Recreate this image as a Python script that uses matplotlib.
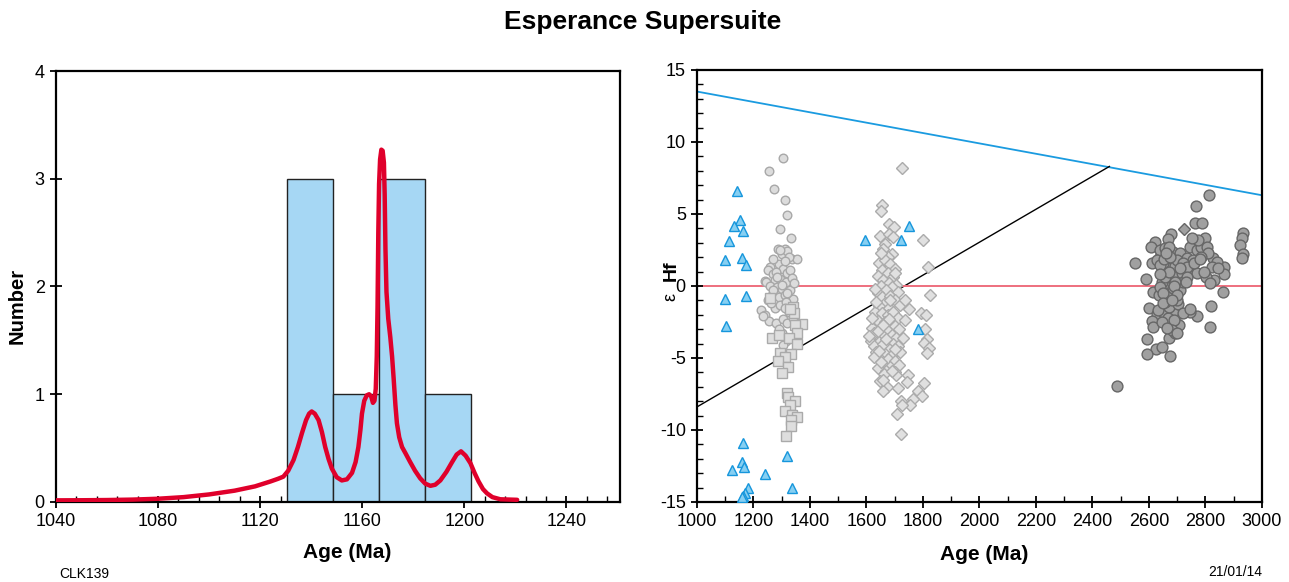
import numpy as np
import matplotlib
matplotlib.use("Agg")
import matplotlib.pyplot as plt
from matplotlib.ticker import MultipleLocator

plt.rcParams['font.family'] = ['Liberation Sans', 'DejaVu Sans']
plt.rcParams['axes.unicode_minus'] = False

# ---------------- Left panel data ----------------
bin_edges = [1130.5, 1148.5, 1166.6, 1184.7, 1202.7]
bin_counts = [3, 1, 3, 1]

pdp_age = [1040, 1050, 1060, 1070, 1080, 1090, 1100, 1110, 1118, 1124, 1127, 1129.1, 1131,
           1133.1, 1134.8, 1136.4, 1138, 1139.2, 1140.2, 1141.4, 1142.9, 1144.2, 1145.5,
           1146.8, 1148.1, 1150, 1152, 1154, 1156, 1157.4, 1158.5, 1159.3, 1159.9, 1160.8,
           1161.8, 1162.7, 1163.5, 1164.2, 1164.8, 1165.3, 1165.7, 1166.0, 1166.3, 1166.6,
           1167.0, 1167.5, 1168.0, 1168.5, 1168.8, 1169.1, 1169.5, 1170.2, 1171.0, 1171.7,
           1172.3, 1173.0, 1173.6, 1174.5, 1175.6, 1177, 1178.8, 1180.7, 1182.7, 1184.7,
           1186.7, 1188.6, 1190.6, 1193, 1195.2, 1197, 1198.7, 1200.5, 1202.4, 1204,
           1205.6, 1207.3, 1208.9, 1211, 1214.1, 1220.7]
pdp_val = [0.015, 0.016, 0.018, 0.022, 0.03, 0.045, 0.07, 0.105, 0.145, 0.19, 0.215, 0.235,
           0.29, 0.39, 0.51, 0.64, 0.76, 0.82, 0.84, 0.82, 0.76, 0.65, 0.51,
           0.40, 0.31, 0.23, 0.20, 0.21, 0.27, 0.37, 0.51, 0.67, 0.82, 0.94,
           0.99, 1.0, 0.98, 0.92, 0.94, 1.05, 1.35, 1.81, 2.5, 2.95,
           3.18, 3.27, 3.26, 3.15, 2.85, 2.35, 1.95, 1.7, 1.53, 1.35,
           1.15, 0.9, 0.73, 0.6, 0.51, 0.45, 0.37, 0.29, 0.22, 0.17,
           0.15, 0.16, 0.2, 0.28, 0.37, 0.44, 0.47, 0.43, 0.36, 0.27,
           0.19, 0.12, 0.08, 0.045, 0.025, 0.02]

# ---------------- Right panel data ----------------
dm_age = [1000, 3000]
dm_ehf = [13.5, 6.3]
crust_age = [1000, 2460]
crust_ehf = [-8.4, 8.3]
chur_age = [1000, 3000]
chur_ehf = [0, 0]

tri_age = [1140, 1152, 1130, 1162, 1113, 1100, 1158, 1172, 1099, 1174, 1103, 1595, 1722,
           1749, 1781, 1164, 1124, 1159, 1168, 1242, 1320, 1181, 1335, 1170, 1162, 1158]
tri_ehf = [6.57, 4.61, 4.17, 3.8, 3.13, 1.79, 1.91, 1.47, -0.91, -0.68, -2.76, 3.18, 3.2,
           4.17, -3.0, -10.9, -12.78, -12.23, -12.57, -13.08, -11.84, -14.0, -14.0, -14.4,
           -14.56, -14.67]

circA_age = [1305, 1256, 1274, 1313, 1318, 1295, 1333, 1288, 1313, 1300, 1335, 1355, 1320,
             1258, 1250, 1270, 1240, 1290, 1305, 1320, 1330, 1245, 1275, 1295, 1315, 1335,
             1260, 1285, 1300, 1330, 1265, 1290, 1310, 1340, 1228, 1240, 1255, 1275, 1295,
             1315, 1325, 1280, 1305, 1320, 1340, 1300, 1315, 1305, 1290, 1270, 1310, 1250,
             1335, 1300, 1280, 1325, 1310, 1295, 1268, 1262, 1285, 1320, 1345, 1235]
circA_ehf = [8.9, 8.0, 6.7, 5.95, 4.95, 3.95, 3.35, 2.6, 2.6, 2.2, 1.9, 1.85, 2.45,
             1.3, 1.1, 0.85, 0.35, 1.5, 1.2, 0.9, 1.1, 0.25, 0.4, 0.5, 0.3, 0.55,
             0.0, -0.1, -0.2, -0.3, -0.6, -0.8, -0.6, -0.9, -1.7, -2.0, -2.4, -1.5, -1.3,
             -1.1, -1.8, -2.6, -2.3, -2.6, -2.2, -3.3, -3.8, -4.1, -3.0, -0.3, -1.5, -1.0,
             -1.5, 0.1, 1.0, 2.0, 1.7, 2.5, 1.9, -1.2, 0.6, -0.5, 0.2, -2.1]

sqA_age = [1258, 1341, 1371, 1347, 1264, 1291, 1353, 1327, 1353, 1294, 1333, 1311, 1288,
           1323, 1302, 1318, 1321, 1347, 1329, 1311, 1335, 1353, 1333, 1332, 1314, 1345,
           1330]
sqA_ehf = [-0.85, -1.44, -2.64, -2.7, -3.59, -3.4, -3.29, -3.63, -4.03, -4.68, -4.75, -4.9,
           -5.2, -5.6, -6.06, -7.45, -7.68, -7.96, -8.26, -8.66, -8.96, -9.07, -9.3, -9.72,
           -10.4, -1.9, -1.6]

diaB_age = [1727, 1656, 1650, 1681, 1697, 1649, 1679, 1695, 1799, 1666, 1660, 1690, 1675,
            1817, 1825,
            1645, 1665, 1685, 1700, 1655, 1675, 1640, 1695, 1660, 1680, 1705, 1650, 1690,
            1670, 1640, 1710, 1655, 1685, 1700, 1665, 1645, 1680, 1720,
            1630, 1655, 1675, 1695, 1710, 1640, 1665, 1685, 1700, 1620, 1650, 1675, 1715,
            1635, 1660, 1690, 1705, 1615, 1645, 1670, 1695, 1625, 1655, 1680, 1710, 1635,
            1665, 1690, 1720, 1645, 1675, 1700, 1655, 1685, 1640, 1715, 1670, 1700,
            1752, 1792, 1811, 1736, 1807, 1730, 1815, 1804, 1822, 1815, 1748, 1704, 1662,
            1648, 1671, 1742, 1713, 1804, 1660, 1783, 1795, 1722, 1766, 1754, 1727, 1707,
            1721,
            1630, 1700, 1650, 1735, 1625, 1690, 1660, 1620, 1640, 1660, 1680, 1625, 1650,
            1670, 1685, 1635, 1660, 1700, 1610, 1645]
diaB_ehf = [8.2, 5.65, 5.2, 4.3, 4.1, 3.5, 3.6, 3.4, 3.2, 2.9, 2.55, 2.2, 2.0,
            1.3, -0.65,
            1.6, 1.8, 1.5, 1.2, 1.1, 0.9, 0.7, 0.6, 0.4, 0.2, 0.1, 0.0, -0.1,
            -0.3, -0.5, -0.4, -0.8, -0.7, -1.0, -1.2, -1.4, -1.5, -1.3,
            -1.8, -1.9, -2.0, -1.8, -2.2, -2.4, -2.5, -2.6, -2.8, -2.9, -3.0, -3.1, -3.0,
            -3.4, -3.5, -3.4, -3.6, -3.8, -3.9, -3.9, -4.0, -4.2, -4.3, -4.4, -4.2, -4.6,
            -4.7, -4.8, -4.6, -5.0, -5.1, -5.2, -5.4, -5.6, -5.7, -5.5, -5.9, -6.0,
            -1.6, -1.9, -2.05, -2.35, -3.0, -3.6, -3.7, -3.95, -4.3, -4.65, -6.2, -6.2, -6.1,
            -6.6, -7.0, -6.7, -7.1, -6.75, -7.3, -7.3, -7.65, -8.0, -7.85, -8.3, -8.3, -8.9,
            -10.3,
            -0.2, 0.9, 2.3, -1.0, -3.3, -5.9, -6.5, -2.2, -3.1, -4.0, -2.3, -4.9, -5.3,
            -3.7, -1.0, -1.1, -2.7, -4.4, -3.5, -4.5]

circC_age = [2813, 2765, 2763, 2789, 2678, 2669, 2620, 2607, 2932, 2929, 2922, 2934, 2928,
             2552, 2612, 2589, 2828, 2866, 2866, 2831, 2802, 2816, 2862, 2616, 2635, 2601,
             2819, 2629, 2769, 2744, 2610, 2616, 2815, 2592, 2625, 2645, 2594, 2675, 2671,
             2692, 2663, 2705, 2710, 2686, 2651, 2669, 2672, 2702, 2711, 2660, 2680, 2663,
             2645, 2680, 2698, 2716, 2745, 2769, 2645, 2669, 2692, 2651, 2639, 2663, 2686,
             2710, 2733, 2745, 2769, 2786, 2798, 2775, 2751, 2804, 2810, 2786, 2757, 2840,
             2822, 2846, 2639, 2627, 2656, 2672, 2698, 2722, 2733, 2639, 2656, 2639, 2669,
             2656, 2698, 2686, 2651, 2722, 2692, 2672, 2710, 2733, 2689, 2680, 2645, 2722,
             2633, 2745, 2486, 2655, 2675, 2690, 2700, 2730, 2760, 2780, 2795, 2650, 2665,
             2683, 2700, 2640, 2660]
circC_ehf = [6.32, 5.56, 4.35, 4.37, 3.61, 3.24, 3.06, 2.73, 3.66, 3.31, 2.85, 2.22, 1.92,
             1.58, 1.58, 0.47, 1.92, 1.34, 0.85, 0.42, 0.65, 0.19, -0.44, -0.44, -0.65, -1.55,
             -1.39, -1.97, -2.06, -1.83, -2.41, -2.87, -2.85, -3.7, -4.38, -4.21, -4.72, -4.88,
             -3.63, -3.24, -2.59, -2.68, -1.9, -1.78, -1.78, -2.24, -1.44, -1.27, -0.28, -0.28,
             -0.46, 0.19, 0.3, 0.53, 0.69, 0.88, 1.11, 0.92, 0.99, 1.22, 1.39, 1.58, 2.03,
             2.15, 2.38, 2.27, 1.92, 2.73, 2.5, 2.73, 3.31, 3.19, 3.31, 2.73, 2.27, 2.03,
             1.81, 1.69, 1.34, 1.22, 2.5, 1.81, 2.62, 2.73, 1.81, 1.58, 1.34, 1.46, 0.65,
             -0.05, -0.74, -1.09, -0.97, -0.16, -0.51, 0.3, 0.3, 0.99, 1.22, 0.65, -2.36,
             -3.06, -2.48, -1.85, -1.67, -1.62, -6.92, 1.9, 2.0, 0.0, -0.6, 0.3, 1.6, 1.9,
             1.0, -1.2, -2.9, -1.0, -3.3, 0.8, 2.3]
diaC_age = [2724]
diaC_ehf = [3.98]

# ---------------- Figure ----------------
fig = plt.figure(figsize=(12.89, 5.82), dpi=100)
fig.text(0.4985, 0.962, 'Esperance Supersuite', ha='center', va='center',
         fontsize=19, fontweight='bold')

# Left panel
ax1 = fig.add_axes([0.0434, 0.1375, 0.4376, 0.7405])
widths = np.diff(bin_edges)
ax1.bar(bin_edges[:-1], bin_counts, width=widths, align='edge', color='#a6d7f4',
        edgecolor='#222222', linewidth=1.0, zorder=2)
ax1.plot(pdp_age, pdp_val, color='#e0002b', lw=3.2, zorder=3,
         solid_capstyle='round', solid_joinstyle='round')
ax1.set_xlim(1040, 1261)
ax1.set_ylim(0, 4)
ax1.xaxis.set_major_locator(MultipleLocator(40))
ax1.xaxis.set_minor_locator(MultipleLocator(8))
ax1.yaxis.set_major_locator(MultipleLocator(1))
ax1.tick_params(axis='both', which='major', direction='inout', length=9, width=1.3,
                labelsize=13, top=False, right=False)
ax1.tick_params(axis='x', which='minor', direction='in', length=4, width=1.0)
ax1.tick_params(axis='y', which='minor', left=False)
for s in ax1.spines.values():
    s.set_linewidth(1.6)
ax1.set_xlabel('Age (Ma)', fontsize=15, fontweight='bold', labelpad=9)
ax1.xaxis.set_label_coords(0.016 + 0.5, -0.095)
ax1.set_ylabel('Number', fontsize=14.5, fontweight='bold')
ax1.yaxis.set_label_coords(-0.052, 0.455)

# Right panel
ax2 = fig.add_axes([0.5407, 0.1375, 0.4383, 0.7423])
ax2.plot(dm_age, dm_ehf, color='#1a9be0', lw=1.3, zorder=1)
ax2.plot(crust_age, crust_ehf, color='black', lw=1.0, zorder=1)
ax2.plot(chur_age, chur_ehf, color='#ee6f7e', lw=1.4, zorder=1)

ax2.plot(circA_age, circA_ehf, 'o', ms=6.2, mfc='#dcdcdc', mec='#a8a8a8', mew=1.0, zorder=3)
ax2.plot(sqA_age, sqA_ehf, 's', ms=7.2, mfc='#dedede', mec='#aaaaaa', mew=1.0, zorder=3)
ax2.plot(diaB_age, diaB_ehf, 'D', ms=5.7, mfc='#e0e0e0', mec='#ababab', mew=1.0, zorder=3)
ax2.plot(circC_age, circC_ehf, 'o', ms=7.8, mfc='#a0a0a0', mec='#666666', mew=1.0, zorder=3)
ax2.plot(diaC_age, diaC_ehf, 'D', ms=6.0, mfc='#a0a0a0', mec='#666666', mew=1.0, zorder=3)
ax2.plot(tri_age, tri_ehf, '^', ms=6.5, mfc='#86cff2', mec='#1696dc', mew=1.0, zorder=4)

ax2.set_xlim(1000, 3000)
ax2.set_ylim(-15, 15)
ax2.xaxis.set_major_locator(MultipleLocator(200))
ax2.xaxis.set_minor_locator(MultipleLocator(100))
ax2.yaxis.set_major_locator(MultipleLocator(5))
ax2.yaxis.set_minor_locator(MultipleLocator(1))
ax2.tick_params(axis='both', which='major', direction='inout', length=9, width=1.3,
                labelsize=13, top=False, right=False)
ax2.tick_params(axis='both', which='minor', direction='in', length=4, width=1.0,
                top=False, right=False)
for s in ax2.spines.values():
    s.set_linewidth(1.6)
ax2.set_xlabel('Age (Ma)', fontsize=15, fontweight='bold')
ax2.xaxis.set_label_coords(0.508, -0.1)
ax2.text(-0.046, 0.474, 'ε', transform=ax2.transAxes, rotation=90, ha='center',
         va='center', fontsize=13)
ax2.text(-0.046, 0.536, 'Hf', transform=ax2.transAxes, rotation=90, ha='center',
         va='center', fontsize=14, fontweight='bold')

fig.text(0.046, 0.002, 'CLK139', fontsize=10, ha='left', va='bottom')
fig.text(0.979, 0.005, '21/01/14', fontsize=10, ha='right', va='bottom')

fig.savefig('out.png', dpi=100)
